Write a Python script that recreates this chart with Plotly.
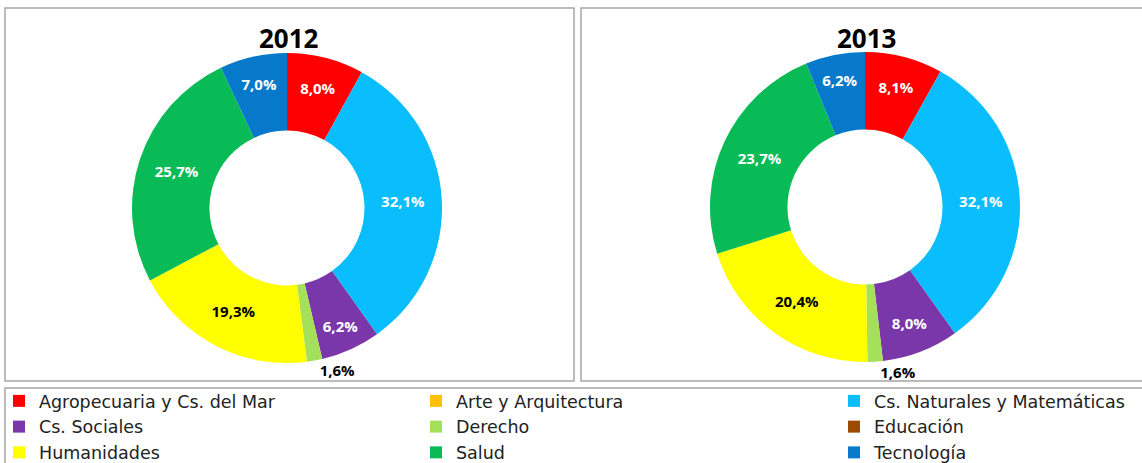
import plotly.graph_objects as go

categories = ["Agropecuaria y Cs. del Mar", "Arte y Arquitectura", "Cs. Naturales y Matemáticas",
              "Cs. Sociales", "Derecho", "Educación", "Humanidades", "Salud", "Tecnología"]
values_2012 = [8.0, 0.0, 32.1, 6.2, 1.6, 0.0, 19.3, 25.7, 7.0]
values_2013 = [8.1, 0.0, 32.1, 8.0, 1.6, 0.0, 20.4, 23.7, 6.2]
years = ["2012", "2013"]

colors = ["#FF0000", "#FFC000", "#0ABDFD", "#7A37A9", "#A5E05B", "#9C4A00", "#FFFF00", "#09BB57", "#0779CA"]
label_colors = ["white", "white", "white", "white", "black", "white", "black", "white", "white"]

W, H = 1142, 463


def fmt(v):
    return ("%.1f%%" % v).replace(".", ",") if v > 0 else ""


def positions(vals):
    return ["outside" if 0 < v < 3 else "inside" for v in vals]


def xdom(cx, r):
    return [(cx - r) / W, (cx + r) / W]


def ydom(cy, r):
    return [1 - (cy + r) / H, 1 - (cy - r) / H]


R = 155
centers = [(287, 208), (865, 207)]

fig = go.Figure()
for yr, vals, (cx, cy) in zip(years, [values_2012, values_2013], centers):
    fig.add_trace(go.Pie(
        labels=categories, values=vals, name=yr,
        text=[fmt(v) for v in vals], textinfo="text",
        textposition=positions(vals),
        insidetextorientation="horizontal",
        textfont=dict(family="Open Sans", size=15, color=label_colors, weight="bold"),
        outsidetextfont=dict(family="Open Sans", size=15, color="black", weight="bold"),
        marker=dict(colors=colors, line=dict(width=0)),
        hole=0.5, sort=False, direction="clockwise", rotation=0,
        domain=dict(x=xdom(cx, R), y=ydom(cy, R)),
        hoverinfo="label+percent", showlegend=False,
    ))

# legend entries (three columns, as in the original)
legend_ids = ["legend", "legend2", "legend3"]
for i, (cat, col) in enumerate(zip(categories, colors)):
    fig.add_trace(go.Scatter(
        x=[None], y=[None], mode="markers", name=cat,
        marker=dict(symbol="square", size=12, color=col),
        legend=legend_ids[i % 3], hoverinfo="skip", showlegend=True,
    ))

shapes = []
def box(x0, y0, x1, y1):
    return dict(type="rect", xref="paper", yref="paper",
                x0=x0 / W, x1=x1 / W, y0=1 - y1 / H, y1=1 - y0 / H,
                line=dict(color="#A6A6A6", width=1.5), fillcolor="rgba(0,0,0,0)", layer="below")

shapes.append(box(5, 8, 574, 381))
shapes.append(box(581, 8, 1150, 381))
shapes.append(box(5, 388, 1150, 470))

annotations = []
for yr, (cx, cy) in zip(years, [(289, 38), (866, 38)]):
    annotations.append(dict(text="<b>%s</b>" % yr, x=cx / W, y=1 - cy / H, xref="paper", yref="paper",
                            showarrow=False, font=dict(family="Open Sans", size=26, color="black"),
                            xanchor="center", yanchor="middle"))

legend_font = dict(family="DejaVu Sans", size=17.5, color="#222222")
leg_common = dict(orientation="v", xanchor="left", yanchor="top", font=legend_font,
                  bgcolor="rgba(0,0,0,0)", itemclick=False, itemdoubleclick=False,
                  traceorder="normal")
legend_x = [-1, 416, 834]
legend_top = 383

fig.update_layout(
    width=W, height=H,
    margin=dict(l=0, r=0, t=0, b=0, autoexpand=False),
    paper_bgcolor="white", plot_bgcolor="white",
    xaxis=dict(visible=False), yaxis=dict(visible=False),
    shapes=shapes, annotations=annotations,
    showlegend=True,
    legend=dict(x=legend_x[0] / W, y=1 - legend_top / H, **leg_common),
    legend2=dict(x=legend_x[1] / W, y=1 - legend_top / H, **leg_common),
    legend3=dict(x=legend_x[2] / W, y=1 - legend_top / H, **leg_common),
)

fig.write_html("out.html", config={"displayModeBar": False},
               post_script="document.body.style.margin='0';document.body.style.overflow='hidden';")
